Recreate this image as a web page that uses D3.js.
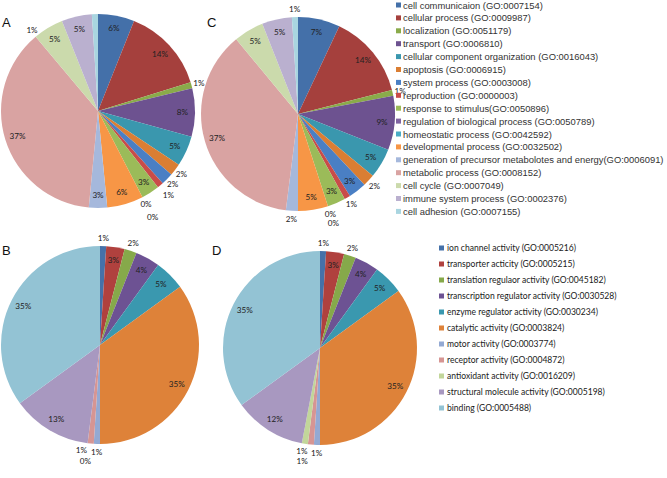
<!DOCTYPE html>
<html><head><meta charset="utf-8">
<script src="https://cdn.jsdelivr.net/npm/d3@7"></script>
<style>html,body{margin:0;padding:0;background:#fff;}svg{display:block;}</style>
</head><body>
<svg id="chart" width="667" height="478"></svg>
<script>
// ---------- data ----------
const bpCategories = [
  "cell communicaion (GO:0007154)",
  "cellular process (GO:0009987)",
  "localization (GO:0051179)",
  "transport (GO:0006810)",
  "cellular component organization (GO:0016043)",
  "apoptosis (GO:0006915)",
  "system process (GO:0003008)",
  "reproduction (GO:0000003)",
  "response to stimulus(GO:0050896)",
  "regulation of biological process (GO:0050789)",
  "homeostatic process (GO:0042592)",
  "developmental process (GO:0032502)",
  "generation of precursor metabolotes and energy(GO:0006091)",
  "metabolic process (GO:0008152)",
  "cell cycle (GO:0007049)",
  "immune system process (GO:0002376)",
  "cell adhesion (GO:0007155)"
];
const bpValuesA = [6,14,1,8,5,2,2,1,3,0,0,6,3,37,5,5,1];
const bpValuesC = [7,14,1,9,5,2,3,1,3,0,0,5,2,37,5,5,1];
const bpColors = ["#4470A9","#A5403D","#8AAB4A","#6D5290","#3A97AE","#DA7E33","#4A7FC4","#C94C49",
                  "#9BBB59","#8064A2","#4BACC6","#F79646","#A5B8DC","#D9A3A2","#CBDAAC","#BAB0CF","#A9D5E0"];

const mfCategories = [
  "ion channel activity (GO:0005216)",
  "transporter acticity (GO:0005215)",
  "translation regulaor activity (GO:0045182)",
  "transcription regulator activity (GO:0030528)",
  "enzyme regulator activity (GO:0030234)",
  "catalytic activity (GO:0003824)",
  "motor activity (GO:0003774)",
  "receptor activity (GO:0004872)",
  "antioxidant activity (GO:0016209)",
  "structural molecule activity (GO:0005198)",
  "binding (GO:0005488)"
];
const mfValuesB = [1,3,2,4,5,35,1,1,0,13,35];
const mfValuesD = [1,3,2,4,5,35,1,1,1,12,35];
const mfColors = ["#4571A9","#B0413E","#86A94A","#6D5293","#3A98AF","#DE8239","#93A9D3","#D69593",
                  "#C2D69A","#A898C0","#93C3D4"];

const panelLetters = ["A","B","C","D"];

// ---------- drawing ----------
const svg = d3.select("#chart");
const labelFont = "Lato";
const legendFontTop = "'Liberation Sans'";

function fitSize(text, family, width) {
  const t = svg.append("text").attr("font-family", family).attr("font-size", 10).text(text);
  const len = t.node().getComputedTextLength();
  t.remove();
  return 10 * width / len;
}

function draw() {
  svg.selectAll("*").remove();
  svg.append("rect").attr("width",667).attr("height",478).attr("fill","#fff");
  const pieLabelSize = fitSize("35%", labelFont, 16);

  function drawPie(values, colors, cx, cy, r, letter, lx, ly) {
    const g = svg.append("g").attr("transform", `translate(${cx},${cy})`);
    const pie = d3.pie().sort(null).value(d => d)(values);
    const arc = d3.arc().innerRadius(0).outerRadius(r);
    g.selectAll("path").data(pie).join("path")
      .attr("d", arc)
      .attr("fill", (d,i) => colors[i]);

    const placed = [];
    const w = 14, h = 9;
    const overlaps = (x, y) => placed.some(p => Math.abs(p.x - x) < w && Math.abs(p.y - y) < h);
    pie.forEach(d => {
      if (d.data >= 3) {
        const a = (d.startAngle + d.endAngle) / 2, rr = r * 0.87;
        placed.push({x: Math.sin(a)*rr, y: -Math.cos(a)*rr, t: d.data + "%"});
      }
    });
    pie.forEach(d => {
      if (d.data < 3) {
        let a0 = (d.startAngle + d.endAngle) / 2;
        const f0 = 1.08;
        if (cy - Math.cos(a0)*r*f0 - 5 < 2) a0 -= 0.65;
        let best = null;
        for (let ri = 0; ri <= 6; ri++) {
          for (let ai = 0; ai <= 5; ai++) {
            const f = f0 + ri * 0.05, a = a0 + ai * 0.08;
            const x = Math.sin(a)*r*f, y = -Math.cos(a)*r*f;
            if (cy + y + 5 > 477 || cy + y - 5 < 0) continue;
            if (overlaps(x, y)) continue;
            const cost = ri * 0.05 * r + ai * 0.08 * r;
            if (!best || cost < best.cost) best = {x, y, cost};
          }
        }
        if (!best) best = {x: Math.sin(a0)*r*f0, y: -Math.cos(a0)*r*f0};
        placed.push({x: best.x, y: best.y, t: d.data + "%"});
      }
    });
    g.selectAll("text.lbl").data(placed).join("text")
      .attr("class","lbl")
      .attr("x", d => d.x).attr("y", d => d.y)
      .attr("text-anchor","middle").attr("dominant-baseline","central")
      .attr("font-family", labelFont).attr("font-size", pieLabelSize).attr("fill","#222")
      .text(d => d.t);

    svg.append("text").attr("x", lx).attr("y", ly)
      .attr("font-family", legendFontTop).attr("font-size",13)
      .attr("fill","#111").text(letter);
  }

  drawPie(bpValuesA, bpColors, 98, 111, 97, panelLetters[0], 2, 27);
  drawPie(mfValuesB, mfColors, 100, 345, 99, panelLetters[1], 2, 255);
  drawPie(bpValuesC, bpColors, 298, 114, 97, panelLetters[2], 207, 27);
  drawPie(mfValuesD, mfColors, 320, 348, 97, panelLetters[3], 212, 255);

  const topSize = fitSize(bpCategories[12], legendFontTop, 261);
  const lt = svg.append("g");
  bpCategories.forEach((c, i) => {
    const y = 5 + i * 12.9;
    lt.append("rect").attr("x",396).attr("y",y-2.5).attr("width",5).attr("height",5).attr("fill",bpColors[i]);
    lt.append("text").attr("x",403).attr("y",y).attr("dominant-baseline","central")
      .attr("font-family", legendFontTop).attr("font-size", topSize)
      .attr("fill","#333").text(c);
  });
  const botSize = fitSize(mfCategories[3], labelFont, 170);
  const lb = svg.append("g");
  mfCategories.forEach((c, i) => {
    const y = 248 + i * 16;
    lb.append("rect").attr("x",439).attr("y",y-2.5).attr("width",5).attr("height",5).attr("fill",mfColors[i]);
    lb.append("text").attr("x",447).attr("y",y).attr("dominant-baseline","central")
      .attr("font-family", labelFont).attr("font-size", botSize)
      .attr("fill","#1a1a1a").text(c);
  });
}

draw();
if (document.fonts && document.fonts.load) {
  Promise.all([document.fonts.load("10px Lato"), document.fonts.load("10px 'Liberation Sans'")])
    .then(draw).catch(() => {});
}
</script>
</body></html>
